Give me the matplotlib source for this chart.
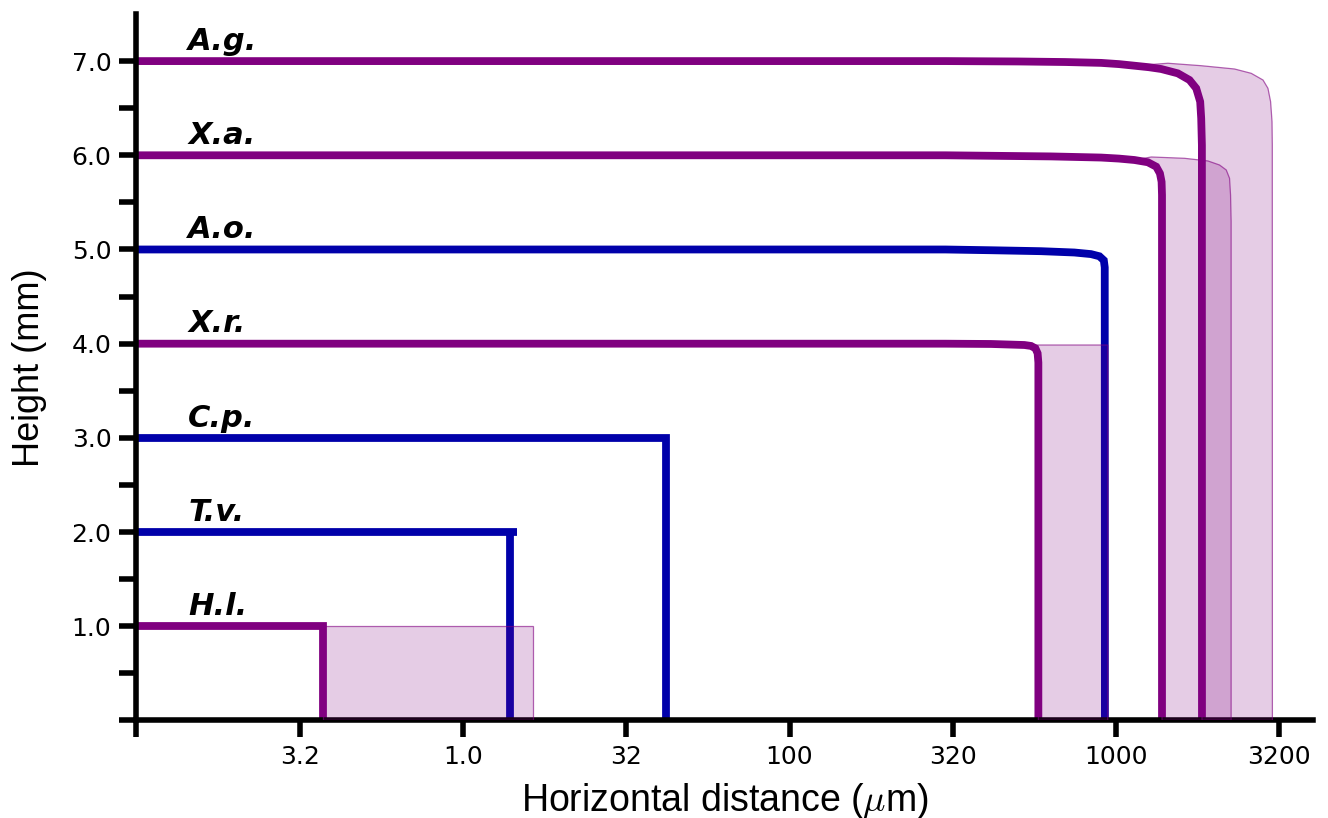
import numpy as np
import matplotlib.pyplot as plt

# species codes and launch heights (mm)
species = ["H.l.", "T.v.", "C.p.", "X.r.", "A.o.", "X.a.", "A.g."]
heights = [1.0, 2.0, 3.0, 4.0, 5.0, 6.0, 7.0]

# trajectories: horizontal distance (um), height (mm)
hl_x = [1, 3.74, 3.74]
hl_y = [1.0, 1.0, 0.0]
# T.v. overshoots a little before the drop (nan = pen up)
tv_x = [1, 14.6, np.nan, 13.9, 13.9]
tv_y = [2.0, 2.0, np.nan, 2.0, 0.0]
cp_x = [1, 41.8, 41.8]
cp_y = [3.0, 3.0, 0.0]
xr_x = [1, 300, 414, 524, 549, 566, 575, 578, 578]
xr_y = [4.0, 4.0, 3.997, 3.986, 3.976, 3.951, 3.898, 3.80, 0.0]
ao_x = [1, 300, 414, 589, 745, 838, 889, 917, 923, 924]
ao_y = [5.0, 5.0, 4.992, 4.982, 4.968, 4.951, 4.928, 4.885, 4.81, 0.0]
xa_x = [1, 300, 632, 899, 1020, 1138, 1251, 1327, 1362, 1378, 1382, 1382]
xa_y = [6.0, 6.0, 5.988, 5.976, 5.965, 5.95, 5.926, 5.879, 5.808, 5.719,
        5.578, 0.0]
ag_x = [1, 300, 500, 700, 899, 1020, 1138, 1260, 1374, 1545, 1678, 1759,
        1809, 1822, 1831, 1832]
ag_y = [7.0, 7.0, 6.996, 6.99, 6.981, 6.968, 6.951, 6.935, 6.916, 6.870,
        6.799, 6.711, 6.569, 6.392, 6.108, 0.0]

# far edge of the range (shaded), only for some species
hl_max_x = [3.74, 16.4, 16.4]
hl_max_y = [1.0, 1.0, 0.0]
xr_max_x = [549, 943, 943]
xr_max_y = [3.986, 3.986, 0.0]
xa_max_x = [1138, 1281, 1620, 1910, 2073, 2174, 2225, 2241, 2250, 2250]
xa_max_y = [5.95, 5.982, 5.968, 5.940, 5.897, 5.844, 5.756, 5.578, 5.3, 0.0]
ag_max_x = [1138, 1441, 1822, 2305, 2593, 2817, 2917, 2972, 3002, 3008, 3010]
ag_max_y = [6.951, 6.977, 6.951, 6.916, 6.870, 6.799, 6.711, 6.569, 6.357,
            6.11, 0.0]

xtick_vals = [1, 3.162, 10, 31.62, 100, 316.2, 1000, 3162]
xtick_labels = ["", "3.2", "1.0", "32", "100", "320", "1000", "3200"]

PURPLE = "#800080"
BLUE = "#0000aa"
colors = [PURPLE, BLUE, BLUE, PURPLE, BLUE, PURPLE, PURPLE]

paths = [(hl_x, hl_y), (tv_x, tv_y), (cp_x, cp_y), (xr_x, xr_y),
         (ao_x, ao_y), (xa_x, xa_y), (ag_x, ag_y)]
ranges = [(0, hl_max_x, hl_max_y), (3, xr_max_x, xr_max_y),
          (5, xa_max_x, xa_max_y), (6, ag_max_x, ag_max_y)]

plt.rcParams["mathtext.fontset"] = "cm"


def shade_range(ax, main_x, main_y, up_x, up_y):
    # area between the main path and the far path
    keep = [i for i in range(len(main_x)) if main_x[i] >= up_x[0]]
    px = list(up_x) + [main_x[i] for i in reversed(keep)]
    py = list(up_y) + [main_y[i] for i in reversed(keep)]
    ax.fill(px, py, facecolor=(0.5, 0, 0.5, 0.2),
            edgecolor=(0.5, 0, 0.5, 0.6), linewidth=0.9, zorder=3)


fig = plt.figure(figsize=(13.28, 8.18), dpi=100)
ax = fig.add_axes([0.1027, 0.1192, 0.8858, 0.8637])

for (px, py), c in zip(paths, colors):
    ax.plot(px, py, color=c, linewidth=5.6, solid_joinstyle="miter",
            solid_capstyle="butt", zorder=2, clip_on=False)

for i, ux, uy in ranges:
    shade_range(ax, paths[i][0], paths[i][1], ux, uy)

for name, h in zip(species, heights):
    ax.text(1.44, h + 0.12, name, fontsize=22, fontweight="bold",
            fontstyle="italic", family="DejaVu Sans", va="baseline")

ax.set_xscale("log")
ax.set_xlim(1, 4000)
ax.set_ylim(0, 7.5)
ax.minorticks_off()

ax.set_xticks(xtick_vals)
ax.set_xticklabels(xtick_labels)
yt = np.arange(0, 7.01, 0.5)
ax.set_yticks(yt)
ax.set_yticklabels(["" if (v == 0 or v % 1) else f"{v:.1f}" for v in yt])

ax.spines[["top", "right"]].set_visible(False)
for s in ["left", "bottom"]:
    ax.spines[s].set_linewidth(4)
ax.tick_params(axis="both", direction="out", length=12, width=4,
               pad=6, labelsize=18)

ax.set_xlabel(r"Horizontal distance ($\mu$m)", fontsize=27,
              family="Liberation Sans", labelpad=8)
ax.set_ylabel("Height (mm)", fontsize=26, family="Liberation Sans",
              labelpad=18)

fig.savefig("out.png", dpi=100)
